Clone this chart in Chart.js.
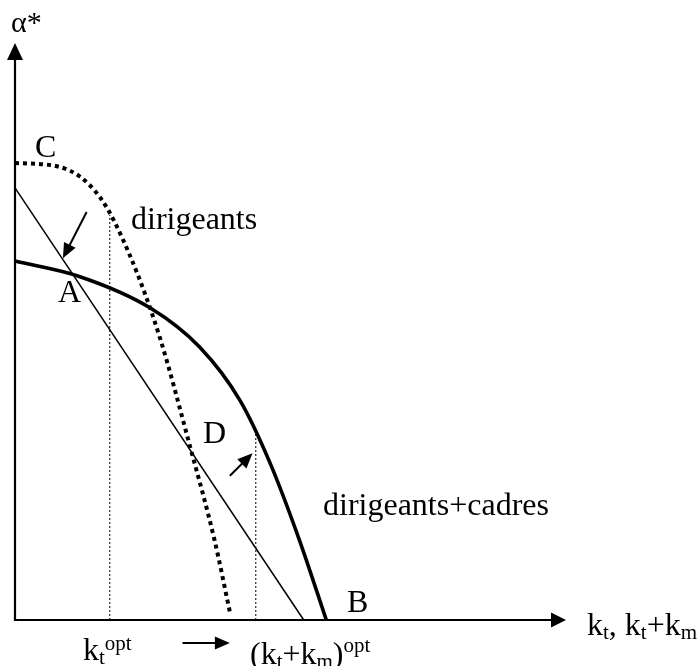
<!DOCTYPE html>
<html>
<head>
<meta charset="utf-8">
<script src="https://cdn.jsdelivr.net/npm/chart.js@4"></script>
<style>
html,body{margin:0;padding:0;background:#fff;}
#wrap{width:698px;height:666px;position:relative;}
</style>
</head>
<body>
<div id="wrap"><canvas id="c"></canvas></div>
<script>
// ---- data (arbitrary units) ----
const dirigeantsX = [0, 0.82, 1.54, 2.08, 2.63, 3.17, 3.62, 3.91];
const dirigeantsY = [7.92, 7.85, 7.33, 6.33, 4.89, 3.03, 1.39, 0.09];

const dirCadresX = [0, 1.18, 2.45, 3.35, 4.08, 4.62, 5.16, 5.65];
const dirCadresY = [6.22, 5.95, 5.41, 4.73, 3.81, 2.74, 1.39, 0];

const budgetX = [0, 5.24];
const budgetY = [7.49, 0];

const optX = [1.72, 4.37];      // k_t^opt , (k_t+k_m)^opt
const optTopY = [7.02, 3.25];

const arrowFromX = [1.30, 3.90];
const arrowFromY = [7.07, 2.50];
const arrowToX = [0.87, 4.31];
const arrowToY = [6.27, 2.89];

const shiftArrowX = [3.04, 3.90];   // arrow under the axis
const shiftArrowY = [-0.40, -0.40];

const xMax = 10, yMax = 10;

const toPts = (xs, ys) => xs.map((x, i) => ({x: x, y: ys[i]}));

const FONT = '"Liberation Serif","Times New Roman",serif';

function drawRich(ctx, x, y, parts) {
  for (const p of parts) {
    ctx.font = p.s + 'px ' + FONT;
    ctx.fillText(p.t, x, y + (p.dy || 0));
    x += ctx.measureText(p.t).width;
  }
}

function arrowHead(ctx, x1, y1, x2, y2, len, half) {
  const a = Math.atan2(y2 - y1, x2 - x1);
  ctx.beginPath();
  ctx.moveTo(x2, y2);
  ctx.lineTo(x2 - len * Math.cos(a) + half * Math.sin(a), y2 - len * Math.sin(a) - half * Math.cos(a));
  ctx.lineTo(x2 - len * Math.cos(a) - half * Math.sin(a), y2 - len * Math.sin(a) + half * Math.cos(a));
  ctx.closePath();
  ctx.fill();
}

function arrow(ctx, x1, y1, x2, y2, lw, len, half) {
  const a = Math.atan2(y2 - y1, x2 - x1);
  ctx.lineWidth = lw;
  ctx.beginPath();
  ctx.moveTo(x1, y1);
  ctx.lineTo(x2 - len * 0.8 * Math.cos(a), y2 - len * 0.8 * Math.sin(a));
  ctx.stroke();
  arrowHead(ctx, x1, y1, x2, y2, len, half);
}

const decor = {
  id: 'decor',
  afterDatasetsDraw(chart) {
    const ctx = chart.ctx;
    const xs = chart.scales.x, ys = chart.scales.y;
    const X = v => xs.getPixelForValue(v), Y = v => ys.getPixelForValue(v);
    ctx.save();
    ctx.strokeStyle = '#000';
    ctx.fillStyle = '#000';
    ctx.setLineDash([]);
    // axes
    ctx.lineWidth = 2.2;
    ctx.beginPath();
    ctx.moveTo(X(0), Y(yMax) + 10);
    ctx.lineTo(X(0), Y(0));
    ctx.lineTo(X(xMax) - 10, Y(0));
    ctx.stroke();
    arrowHead(ctx, X(0), Y(0), X(0), Y(yMax), 17, 8);
    arrowHead(ctx, X(0), Y(0), X(xMax), Y(0), 15, 7.5);
    // pointer arrows
    for (let i = 0; i < arrowFromX.length; i++) {
      arrow(ctx, X(arrowFromX[i]), Y(arrowFromY[i]), X(arrowToX[i]), Y(arrowToY[i]), 2, 15, 6.5);
    }
    arrow(ctx, X(shiftArrowX[0]), Y(shiftArrowY[0]), X(shiftArrowX[1]), Y(shiftArrowY[1]), 2, 15, 6.5);
    // texts
    ctx.textBaseline = 'alphabetic';
    ctx.textAlign = 'left';
    drawRich(ctx, 11, 32, [{t: 'α*', s: 30}]);
    drawRich(ctx, 35, 157, [{t: 'C', s: 32}]);
    drawRich(ctx, 131, 229, [{t: 'dirigeants', s: 32}]);
    drawRich(ctx, 58, 302, [{t: 'A', s: 32}]);
    drawRich(ctx, 203, 443, [{t: 'D', s: 32}]);
    drawRich(ctx, 323, 515, [{t: 'dirigeants+cadres', s: 32}]);
    drawRich(ctx, 347, 612, [{t: 'B', s: 32}]);
    drawRich(ctx, 587, 635, [
      {t: 'k', s: 32}, {t: 't', s: 21, dy: 4}, {t: ', k', s: 32}, {t: 't', s: 21, dy: 4},
      {t: '+k', s: 32}, {t: 'm', s: 21, dy: 4}
    ]);
    drawRich(ctx, 83, 660, [{t: 'k', s: 32}, {t: 't', s: 21, dy: 4}, {t: 'opt', s: 21, dy: -10}]);
    drawRich(ctx, 250, 664, [
      {t: '(k', s: 32}, {t: 't', s: 21, dy: 4}, {t: '+k', s: 32}, {t: 'm', s: 21, dy: 4},
      {t: ')', s: 32}, {t: 'opt', s: 21, dy: -12}
    ]);
    ctx.restore();
  }
};

const chart = new Chart(document.getElementById('c'), {
  type: 'scatter',
  data: {
    datasets: [
      {
        label: 'kt opt',
        data: [{x: optX[0], y: 0}, {x: optX[0], y: optTopY[0]}],
        showLine: true, borderColor: '#000', borderWidth: 1, borderDash: [2, 2],
        pointRadius: 0, clip: false
      },
      {
        label: '(kt+km) opt',
        data: [{x: optX[1], y: 0}, {x: optX[1], y: optTopY[1]}],
        showLine: true, borderColor: '#000', borderWidth: 1, borderDash: [2, 2],
        pointRadius: 0, clip: false
      },
      {
        label: 'droite',
        data: toPts(budgetX, budgetY),
        showLine: true, borderColor: '#000', borderWidth: 1.5,
        pointRadius: 0, clip: false
      },
      {
        label: 'dirigeants+cadres',
        data: toPts(dirCadresX, dirCadresY),
        showLine: true, borderColor: '#000', borderWidth: 3.6,
        cubicInterpolationMode: 'monotone', pointRadius: 0, clip: false
      },
      {
        label: 'dirigeants',
        data: toPts(dirigeantsX, dirigeantsY),
        showLine: true, borderColor: '#000', borderWidth: 4, borderDash: [4, 4],
        cubicInterpolationMode: 'monotone', pointRadius: 0, clip: false
      }
    ]
  },
  options: {
    responsive: true,
    maintainAspectRatio: false,
    animation: false,
    layout: { padding: { left: 15, top: 43, right: 132, bottom: 46 } },
    plugins: { legend: { display: false }, tooltip: { enabled: false } },
    scales: {
      x: { type: 'linear', min: 0, max: xMax, display: false },
      y: { type: 'linear', min: 0, max: yMax, display: false }
    }
  },
  plugins: [decor]
});
</script>
</body>
</html>
